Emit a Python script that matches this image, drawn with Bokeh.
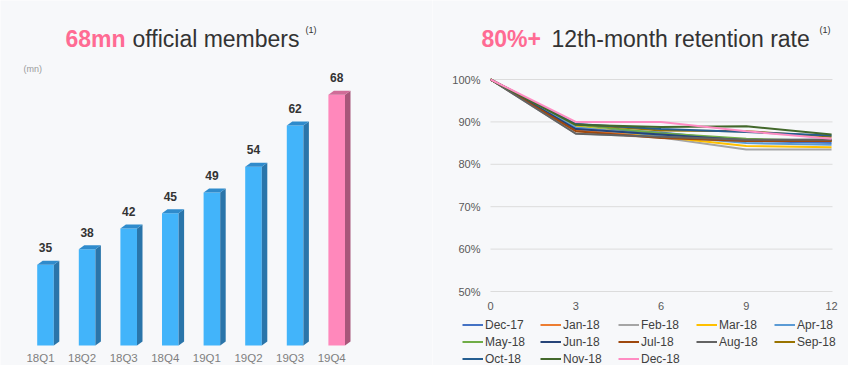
from bokeh.plotting import figure
from bokeh.layouts import row
from bokeh.models import (Range1d, FixedTicker, Label, Legend, LegendItem,
                          PrintfTickFormatter, LinearAxis)
from bokeh.core.properties import value
from bokeh.embed import file_html
from bokeh.resources import INLINE

FONT = "Liberation Sans"

# ---------------- data ----------------
quarters = ["18Q1", "18Q2", "18Q3", "18Q4", "19Q1", "19Q2", "19Q3", "19Q4"]
members = [35, 38, 42, 45, 49, 54, 62, 68]

months = [0, 3, 6, 9, 12]
cohort_names = ["Dec-17", "Jan-18", "Feb-18", "Mar-18", "Apr-18", "May-18", "Jun-18",
                "Jul-18", "Aug-18", "Sep-18", "Oct-18", "Nov-18", "Dec-18"]
dec17 = [100, 88.5, 87.5, 85.5, 85.0]
jan18 = [100, 88.0, 86.5, 85.5, 85.5]
feb18 = [100, 87.3, 86.3, 83.5, 83.5]
mar18 = [100, 89.0, 86.5, 84.3, 84.0]
apr18 = [100, 88.7, 86.8, 85.0, 84.6]
may18 = [100, 89.3, 87.3, 86.0, 85.5]
jun18 = [100, 88.3, 87.0, 85.7, 85.8]
jul18 = [100, 87.8, 86.2, 85.5, 85.5]
aug18 = [100, 87.2, 86.5, 85.8, 85.8]
sep18 = [100, 89.5, 88.0, 87.8, 86.5]
oct18 = [100, 89.5, 88.3, 87.6, 86.8]
nov18 = [100, 89.3, 88.8, 89.0, 87.0]
dec18 = [100, 90.0, 90.0, 87.8, 86.0]
cohort_values = [dec17, jan18, feb18, mar18, apr18, may18, jun18,
                 jul18, aug18, sep18, oct18, nov18, dec18]
y_ticks = [50, 60, 70, 80, 90, 100]

# ---------------- styles ----------------
BG = "#f7f8fa"
PINK_TITLE = "#ff6b93"
DARK = "#333333"
line_colors = ["#4472c4", "#ed7d31", "#a5a5a5", "#ffc000", "#5b9bd5", "#70ad47", "#264478",
               "#9e480e", "#636363", "#997300", "#255e91", "#43682b", "#ff8cc3"]

H = 365
LW, RW = 432, 416

# ---------------- left chart: members ----------------
L_PX = 41.6        # px per category
L_TICK0 = 40       # px of category 0 tick
L_BASE = 19.3      # baseline value
L_BASE_PX = 345
L_SCALE = 5.15     # px per unit
lx0 = -L_TICK0 / L_PX
lx1 = lx0 + LW / L_PX
ly1 = L_BASE + L_BASE_PX / L_SCALE
ly0 = ly1 - H / L_SCALE


def lx(px):
    return lx0 + px / L_PX


def ly(py):
    return ly1 - py / L_SCALE


p1 = figure(width=LW, height=H, output_backend="svg", toolbar_location=None,
            x_range=Range1d(lx0, lx1), y_range=Range1d(ly0, ly1),
            x_axis_location=None, y_axis_location=None, min_border=0)
p1.background_fill_color = BG
p1.border_fill_color = BG
p1.outline_line_color = None
p1.grid.visible = False

off = 5 / L_PX
half = 8.3 / L_PX
ddx = 5.5 / L_PX
ddy = 4 / L_SCALE
idx = list(range(len(quarters)))
last = len(quarters) - 1
front = ["#ff88bb" if i == last else "#42b4fa" for i in idx]
side = ["#a8567a" if i == last else "#2a75aa" for i in idx]
top = ["#d06c98" if i == last else "#2f8bcc" for i in idx]

lefts = [i + off - half for i in idx]
rights = [i + off + half for i in idx]
p1.quad(left=lefts, right=rights, bottom=[L_BASE] * len(idx), top=members,
        fill_color=front, line_color=None)
p1.patches(xs=[[r, r + ddx, r + ddx, r] for r in rights],
           ys=[[L_BASE, L_BASE + ddy, v + ddy, v] for v in members],
           fill_color=side, line_color=None)
p1.patches(xs=[[l, l + ddx, r + ddx, r] for l, r in zip(lefts, rights)],
           ys=[[v, v + ddy, v + ddy, v] for v in members],
           fill_color=top, line_color=None)
p1.text(x=[i + off for i in idx], y=members, text=[str(v) for v in members],
        text_align="center", text_baseline="middle", y_offset=-17,
        text_font=value(FONT), text_font_size="12px", text_font_style="bold",
        text_color=DARK)

ax = LinearAxis(fixed_location=L_BASE, ticker=FixedTicker(ticks=idx))
ax.major_label_overrides = {i: q for i, q in zip(idx, quarters)}
ax.axis_line_color = None
ax.major_tick_line_color = None
ax.minor_tick_line_color = None
ax.major_tick_out = 0
ax.major_tick_in = 0
ax.major_label_standoff = 6
ax.major_label_text_font = FONT
ax.major_label_text_font_size = "11.5px"
ax.major_label_text_color = "#7f7f7f"
p1.add_layout(ax, "below")

p1.add_layout(Label(x=lx(65), y=ly(38), text="68mn", text_font=FONT,
                    text_font_size="23px", text_font_style="bold",
                    text_color=PINK_TITLE, text_baseline="alphabetic"))
p1.add_layout(Label(x=lx(132), y=ly(38), text="official members", text_font=FONT,
                    text_font_size="23px", text_color=DARK, text_baseline="alphabetic"))
p1.add_layout(Label(x=lx(305), y=ly(29), text="(1)", text_font=FONT,
                    text_font_size="9px", text_color=DARK, text_baseline="middle"))
p1.add_layout(Label(x=lx(23), y=ly(68), text="(mn)", text_font=FONT,
                    text_font_size="9px", text_color="#9a9a9a", text_baseline="middle"))

# ---------------- right chart: retention ----------------
R_OX = 432         # page x of right figure
R_X0PX = 490       # page x of month 0
R_XPX = 28.42      # px per month
R_Y100 = 79        # page y of 100%
R_YPX = 4.24       # px per percentage point
rx0 = -(R_X0PX - R_OX) / R_XPX
rx1 = rx0 + RW / R_XPX
ry1 = 100 + R_Y100 / R_YPX
ry0 = ry1 - H / R_YPX


def rx(px):
    return (px - R_X0PX) / R_XPX


def ry(py):
    return ry1 - py / R_YPX


p2 = figure(width=RW, height=H, output_backend="svg", toolbar_location=None,
            x_range=Range1d(rx0, rx1), y_range=Range1d(ry0, ry1),
            x_axis_location=None, y_axis_location=None, min_border=0)
p2.background_fill_color = BG
p2.border_fill_color = BG
p2.outline_line_color = None
p2.grid.visible = False

grid_end = rx(832)
p2.segment(x0=[0] * len(y_ticks), x1=[grid_end] * len(y_ticks), y0=y_ticks, y1=y_ticks,
           line_color="#dcdcdc", line_width=1)

xa = LinearAxis(fixed_location=min(y_ticks), ticker=FixedTicker(ticks=months))
ya = LinearAxis(fixed_location=0, ticker=FixedTicker(ticks=y_ticks),
                formatter=PrintfTickFormatter(format="%d%%"))
for a in (xa, ya):
    a.axis_line_color = None
    a.major_tick_line_color = None
    a.minor_tick_line_color = None
    a.major_tick_out = 0
    a.major_tick_in = 0
    a.major_label_standoff = 10
    a.major_label_text_font = FONT
    a.major_label_text_font_size = "11px"
    a.major_label_text_color = "#595959"
p2.add_layout(xa, "below")
p2.add_layout(ya, "left")

items = []
for name, vals, col in zip(cohort_names, cohort_values, line_colors):
    r = p2.line(months, vals, line_color=col, line_width=2)
    items.append(LegendItem(label=name, renderers=[r]))

legend = Legend(items=items, orientation="horizontal", ncols=5,
                location=(462 - R_OX, -2), padding=0, margin=0,
                spacing=0, glyph_width=21, glyph_height=17, label_height=17,
                label_width=55, label_standoff=2, label_text_font=FONT,
                label_text_font_size="12px", label_text_color="#404040",
                border_line_color=None, background_fill_alpha=0)
p2.add_layout(legend, "center")

p2.add_layout(Label(x=rx(481), y=ry(38), text="80%+", text_font=FONT,
                    text_font_size="23px", text_font_style="bold",
                    text_color=PINK_TITLE, text_baseline="alphabetic"))
p2.add_layout(Label(x=rx(551), y=ry(38), text="12th-month retention rate", text_font=FONT,
                    text_font_size="23px", text_color=DARK, text_baseline="alphabetic"))
p2.add_layout(Label(x=rx(819), y=ry(29), text="(1)", text_font=FONT,
                    text_font_size="9px", text_color=DARK, text_baseline="middle"))

layout = row(p1, p2, spacing=0)
open("out.html", "w").write(file_html(layout, INLINE))
